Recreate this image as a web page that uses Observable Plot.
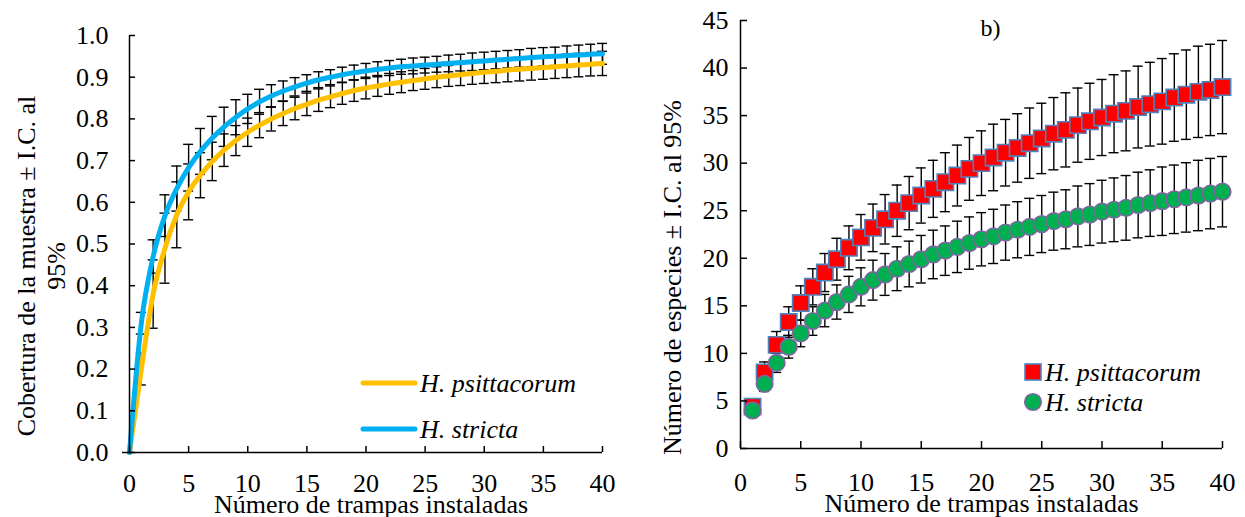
<!DOCTYPE html>
<html>
<head>
<meta charset="utf-8">
<script src="https://cdn.jsdelivr.net/npm/d3@7"></script>
<script src="https://cdn.jsdelivr.net/npm/@observablehq/plot@0.6"></script>
<style>
  html, body { margin: 0; padding: 0; background: #fff; }
  #wrap { position: relative; width: 1245px; height: 517px; display: flex; }
  #wrap > svg.legend { position: absolute; left: 0; top: 0; pointer-events: none; }
</style>
</head>
<body>
<div id="wrap"></div>
<script>
// ---------------- DATA ----------------
const especies = ["H. psittacorum", "H. stricta"];
const trampas = [0,1,2,3,4,5,6,7,8,9,10,11,12,13,14,15,16,17,18,19,20,21,22,23,24,25,26,27,28,29,30,31,32,33,34,35,36,37,38,39,40];

// a) Cobertura de la muestra (t = 0..40)
const coberturaPsittacorum = [0, 0.20, 0.38, 0.49, 0.57, 0.625, 0.665, 0.698, 0.725, 0.748, 0.768, 0.785, 0.800, 0.813, 0.825, 0.835, 0.845, 0.853, 0.861, 0.868, 0.874, 0.879, 0.884, 0.888, 0.892, 0.896, 0.900, 0.903, 0.906, 0.909, 0.912, 0.914, 0.917, 0.919, 0.921, 0.923, 0.925, 0.927, 0.929, 0.931, 0.933];
const coberturaStricta = [0, 0.31, 0.47, 0.568, 0.633, 0.683, 0.722, 0.754, 0.781, 0.804, 0.824, 0.841, 0.855, 0.867, 0.877, 0.886, 0.894, 0.900, 0.906, 0.911, 0.915, 0.919, 0.922, 0.925, 0.927, 0.929, 0.931, 0.933, 0.935, 0.937, 0.939, 0.941, 0.943, 0.945, 0.947, 0.949, 0.950, 0.952, 0.953, 0.955, 0.956];
// half-width of the 95% CI (t = 1..40)
const icCoberturaPsittacorum = [0.038, 0.082, 0.084, 0.079, 0.067, 0.054, 0.046, 0.039, 0.036, 0.034, 0.030, 0.029, 0.029, 0.027, 0.027, 0.027, 0.026, 0.026, 0.026, 0.026, 0.025, 0.025, 0.025, 0.024, 0.025, 0.025, 0.025, 0.026, 0.026, 0.027, 0.027, 0.028, 0.028, 0.028, 0.028, 0.028, 0.028, 0.028, 0.028, 0.029];
const icCoberturaStricta = [0.026, 0.040, 0.050, 0.054, 0.056, 0.055, 0.052, 0.047, 0.042, 0.035, 0.030, 0.027, 0.024, 0.022, 0.020, 0.019, 0.018, 0.018, 0.018, 0.018, 0.018, 0.018, 0.018, 0.019, 0.019, 0.019, 0.020, 0.020, 0.021, 0.021, 0.021, 0.021, 0.021, 0.022, 0.022, 0.022, 0.023, 0.024, 0.024, 0.025];

// b) Número de especies (t = 1..40)
const riquezaPsittacorum = [4.4, 8.0, 10.9, 13.3, 15.3, 17.0, 18.5, 19.9, 21.1, 22.2, 23.2, 24.1, 25.0, 25.8, 26.6, 27.3, 28.0, 28.7, 29.4, 30.0, 30.6, 31.1, 31.6, 32.1, 32.6, 33.1, 33.5, 34.0, 34.4, 34.8, 35.2, 35.5, 35.9, 36.2, 36.5, 36.9, 37.2, 37.5, 37.7, 38.0];
const riquezaStricta = [4.0, 6.8, 9.0, 10.7, 12.1, 13.4, 14.5, 15.4, 16.2, 17.0, 17.7, 18.3, 18.9, 19.4, 19.9, 20.4, 20.8, 21.2, 21.6, 22.0, 22.3, 22.7, 23.0, 23.3, 23.6, 23.9, 24.1, 24.4, 24.6, 24.9, 25.1, 25.3, 25.6, 25.8, 26.0, 26.2, 26.4, 26.6, 26.8, 27.0];
const icRiquezaPsittacorum = [0.7, 1.1, 1.4, 1.6, 1.8, 1.9, 2.0, 2.2, 2.3, 2.4, 2.5, 2.6, 2.7, 2.8, 2.9, 3.0, 3.1, 3.2, 3.3, 3.4, 3.5, 3.5, 3.6, 3.7, 3.7, 3.8, 3.9, 3.9, 4.0, 4.0, 4.1, 4.2, 4.3, 4.4, 4.5, 4.6, 4.7, 4.8, 4.8, 4.9];
const icRiquezaStricta = [0.4, 0.8, 1.0, 1.2, 1.4, 1.5, 1.7, 1.8, 1.9, 2.0, 2.1, 2.2, 2.3, 2.4, 2.5, 2.55, 2.6, 2.7, 2.75, 2.8, 2.85, 2.9, 2.95, 3.0, 3.0, 3.05, 3.1, 3.2, 3.25, 3.3, 3.35, 3.4, 3.45, 3.5, 3.6, 3.6, 3.65, 3.7, 3.7, 3.7];

const xTicks = [0, 5, 10, 15, 20, 25, 30, 35, 40];
const yTicksCobertura = [0, 0.1, 0.2, 0.3, 0.4, 0.5, 0.6, 0.7, 0.8, 0.9, 1.0];
const yTicksRiqueza = [0, 5, 10, 15, 20, 25, 30, 35, 40, 45];

const tituloX = "Número de trampas instaladas";
const tituloYCobertura = "Cobertura de la muestra ± I.C. al\n95%";
const tituloYRiqueza = "Número de especies ± I.C. al 95%";
const etiquetaPanelB = "b)";

// ---------------- STYLE ----------------
const serif = "'Liberation Serif', 'Times New Roman', serif";
const colLinePs = "#FFC000", colLineSt = "#00B0F0";
const colSqFill = "#FF0000", colSqStroke = "#4F81BD";
const colCiFill = "#00B050", colCiStroke = "#8064A2";
const FS = 26;

// ---------------- TABLES ----------------
const lineaPs = trampas.map((t, i) => ({t, v: coberturaPsittacorum[i]}));
const lineaSt = trampas.map((t, i) => ({t, v: coberturaStricta[i]}));
const barrasCob = (vals, ic) => trampas.slice(1).map((t, i) => ({t, lo: vals[i + 1] - ic[i], hi: vals[i + 1] + ic[i]}));
const bPs = barrasCob(coberturaPsittacorum, icCoberturaPsittacorum);
const bSt = barrasCob(coberturaStricta, icCoberturaStricta);

const riq = (vals, ic) => trampas.slice(1).map((t, i) => ({t, v: vals[i], lo: vals[i] - ic[i], hi: vals[i] + ic[i]}));
const rPs = riq(riquezaPsittacorum, icRiquezaPsittacorum);
const rSt = riq(riquezaStricta, icRiquezaStricta);

function errorBars(data) {
  const o = {stroke: "#000", strokeWidth: 1.4};
  return [
    Plot.ruleX(data, {x: "t", y1: "lo", y2: "hi", ...o}),
    Plot.ruleY(data, {y: "lo", x1: "t", x2: "t", insetLeft: -5, insetRight: -5, ...o}),
    Plot.ruleY(data, {y: "hi", x1: "t", x2: "t", insetLeft: -5, insetRight: -5, ...o})
  ];
}

function axes(yTicks, yFormat, padX, padY, tick, extendLeft) {
  return [
    Plot.ruleX([0], {stroke: "#000", strokeWidth: 1.5}),
    Plot.ruleY([0], {stroke: "#000", strokeWidth: 1.5, insetLeft: extendLeft}),
    Plot.ruleX(xTicks, {x: d => d, y1: () => 0, y2: () => 0, insetTop: -tick, stroke: "#000", strokeWidth: 1.5}),
    Plot.ruleY(yTicks, {y: d => d, x1: () => 0, x2: () => 0, insetRight: -tick, stroke: "#000", strokeWidth: 1.5}),
    Plot.axisX({ticks: xTicks, tickSize: 0, tickPadding: padX, fontSize: FS, label: null}),
    Plot.axisY({ticks: yTicks, tickFormat: yFormat, tickSize: 0, tickPadding: padY, fontSize: FS, label: null})
  ];
}

const titleOpts = {text: d => d, textAnchor: "middle", lineAnchor: "middle", fontSize: FS};

// ---------------- PANEL a ----------------
const left = Plot.plot({
  width: 620, height: 517,
  marginLeft: 129, marginRight: 18, marginTop: 35, marginBottom: 65,
  style: {fontFamily: serif, fontSize: FS + "px", color: "#000", background: "transparent", overflow: "visible"},
  x: {domain: [0, 40]},
  y: {domain: [0, 1]},
  marks: [
    ...errorBars(bPs),
    ...errorBars(bSt),
    Plot.line(lineaPs, {x: "t", y: "v", stroke: colLinePs, strokeWidth: 5, curve: "monotone-x"}),
    Plot.line(lineaSt, {x: "t", y: "v", stroke: colLineSt, strokeWidth: 5, curve: "monotone-x"}),
    ...axes(yTicksCobertura, d3.format(".1f"), 21, 21, 6, -7),
    Plot.text([tituloX], {...titleOpts, frameAnchor: "bottom", dx: 5, dy: 52}),
    Plot.text([tituloYCobertura], {...titleOpts, frameAnchor: "left", rotate: -90, dx: -89, dy: 22, lineHeight: 1.15})
  ]
});

// ---------------- PANEL b ----------------
const right = Plot.plot({
  width: 625, height: 517,
  marginLeft: 120, marginRight: 23, marginTop: 20, marginBottom: 69,
  style: {fontFamily: serif, fontSize: FS + "px", color: "#000", background: "transparent", overflow: "visible"},
  x: {domain: [0, 40]},
  y: {domain: [0, 45]},
  marks: [
    ...errorBars(rPs),
    ...errorBars(rSt),
    Plot.dot(rPs, {x: "t", y: "v", symbol: "square", r: 9.2, fill: colSqFill, stroke: colSqStroke, strokeWidth: 1.6}),
    Plot.dot(rSt, {x: "t", y: "v", symbol: "circle", r: 8.3, fill: colCiFill, stroke: colCiStroke, strokeWidth: 1.6}),
    ...axes(yTicksRiqueza, d => String(d), 24, 12, 7, 0),
    Plot.text([tituloX], {...titleOpts, frameAnchor: "bottom", dx: 0, dy: 55}),
    Plot.text([tituloYRiqueza], {...titleOpts, frameAnchor: "left", rotate: -90, dx: -68, dy: 43}),
    Plot.text([etiquetaPanelB], {...titleOpts, frameAnchor: "top", dx: 9, dy: 8, fontSize: 24})
  ]
});

const wrap = document.getElementById("wrap");
wrap.appendChild(left);
wrap.appendChild(right);

// ---------------- LEGENDS ----------------
const leg = d3.select(wrap).append("svg").attr("class", "legend")
  .attr("width", 1245).attr("height", 517)
  .style("font-family", serif).style("font-size", FS + "px").style("font-style", "italic");

// panel a legend (lines)
const legA = [
  {name: especies[0], color: colLinePs, y: 383},
  {name: especies[1], color: colLineSt, y: 429}
];
const ga = leg.selectAll("g.a").data(legA).join("g").attr("class", "a");
ga.append("line").attr("x1", 363).attr("x2", 415).attr("y1", d => d.y).attr("y2", d => d.y)
  .attr("stroke", d => d.color).attr("stroke-width", 5).attr("stroke-linecap", "round");
ga.append("text").attr("x", 420).attr("y", d => d.y).attr("dy", "0.35em").text(d => d.name);

// panel b legend (markers)
const legB = [
  {name: especies[0], y: 372},
  {name: especies[1], y: 402}
];
leg.append("rect").attr("x", 1033 - 8).attr("y", legB[0].y - 8).attr("width", 16).attr("height", 16)
  .attr("fill", colSqFill).attr("stroke", colSqStroke).attr("stroke-width", 1.6);
leg.append("circle").attr("cx", 1033).attr("cy", legB[1].y).attr("r", 8.3)
  .attr("fill", colCiFill).attr("stroke", colCiStroke).attr("stroke-width", 1.6);
leg.selectAll("text.b").data(legB).join("text").attr("class", "b")
  .attr("x", 1045).attr("y", d => d.y).attr("dy", "0.35em").text(d => d.name);
</script>
</body>
</html>
